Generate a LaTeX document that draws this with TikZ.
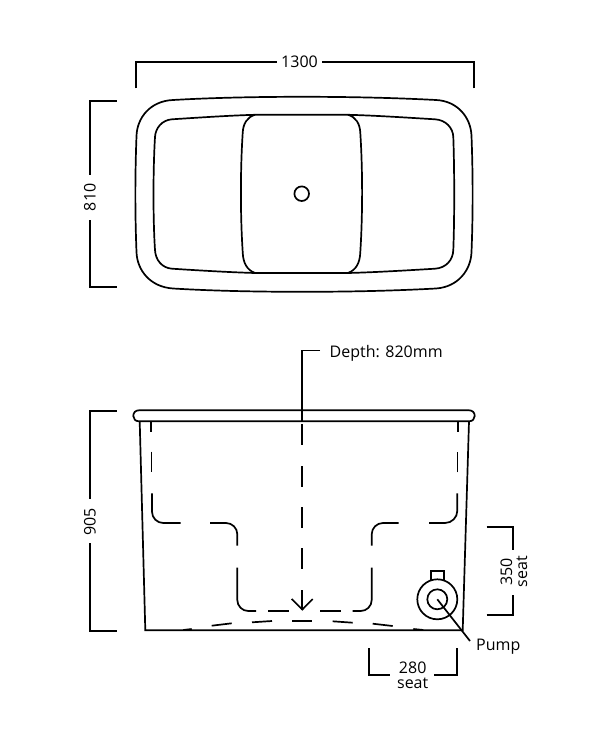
\documentclass[tikz,border=0pt]{standalone}
\usepackage{fontspec}
\setmainfont{Open Sans}
\begin{document}
\begin{tikzpicture}[x=1pt,y=-1pt,
  ln/.style={line width=1.7pt,black},
  dim/.style={line width=1.7pt,black,line cap=butt},
  lab/.style={inner sep=0pt,font=\fontsize{16}{16}\selectfont},
  lab2/.style={inner sep=0pt,font=\fontsize{16}{15}\selectfont,align=center}]
\useasboundingbox (0,0) rectangle (600,730);
% plan view
\draw[ln] (173,100) .. controls (215,97.6) and (260,96.8) .. (301.7,96.8)
  .. controls (345,96.8) and (390,97.6) .. (436,100)
  .. controls (458,101) and (471,118) .. (471.5,136)
  .. controls (473,175) and (473,215) .. (471.5,252)
  .. controls (471,270) and (458,287) .. (436,288.5)
  .. controls (390,291) and (345,291.8) .. (301.7,291.8)
  .. controls (260,291.8) and (215,291) .. (173,288.5)
  .. controls (150,287) and (137,270) .. (136.5,252)
  .. controls (135,215) and (135,175) .. (136.5,136)
  .. controls (137,118) and (150,101) .. (173,100) -- cycle;
\draw[ln] (172,119.3) .. controls (200,117.5) and (230,115.5) .. (255,114.8)
  -- (348,114.8)
  .. controls (375,115.5) and (405,117.5) .. (435,119.3)
  .. controls (446,120) and (453,128) .. (453.3,137)
  .. controls (454.5,170) and (454.5,220) .. (453.3,250)
  .. controls (453,260) and (446,268) .. (435,268.7)
  .. controls (405,270.5) and (375,272.3) .. (348,273)
  -- (255,273)
  .. controls (230,272.3) and (200,270.5) .. (172,268.7)
  .. controls (162,268) and (155.5,260) .. (155,250)
  .. controls (153,220) and (153,170) .. (155,137)
  .. controls (155.5,128) and (162,120) .. (172,119.3) -- cycle;
\draw[ln] (255,114.8) .. controls (247,117) and (243,124) .. (242.7,133)
  .. controls (240.3,170) and (240.3,215) .. (242.7,252)
  .. controls (243,263) and (247,270) .. (255,273);
\draw[ln] (348,114.8) .. controls (356,117) and (360,124) .. (360.3,133)
  .. controls (362.7,170) and (362.7,215) .. (360.3,252)
  .. controls (360,263) and (356,270) .. (348,273);
\node[draw,circle,ln,minimum size=14.6pt,inner sep=0pt] (drain) at (301.7,193.7) {};
% 1300
\node[lab,anchor=base] (w) at (299.5,68) {1300};
\draw[dim] (135.7,88.3) |- (277,62);
\draw[dim] (474.3,88.3) |- (322,62);
% 810
\node[lab,rotate=90] (h) at (90,197.3) {810};
\draw[dim] (116.7,100.7) -| (90.3,175);
\draw[dim] (116.7,286.7) -| (90.3,220);
% side view
\draw[ln] (139,421.3) .. controls (135.5,421.3) and (133.3,419) .. (133.3,416)
  .. controls (133.3,412.5) and (135.5,410.3) .. (139,410.3) -- (469,410.3)
  .. controls (472.5,410.3) and (474.7,412.5) .. (474.7,416)
  .. controls (474.7,419) and (472.5,421.3) .. (469,421.3) -- cycle;
\draw[ln] (139.7,421.3) -- (145.3,630.3) -- (462.7,630.3) -- (469,421.3);
% hidden seat
\begin{scope}[ln]
\draw (151,421) -- (151,431.7);
\draw (151.5,451.7) -- (151.5,472.3);
\draw (152,493.3) -- (152,511.7) arc[start angle=180,end angle=90,radius=11.3] -- (180.7,523);
\draw (210,523) -- (226,523) arc[start angle=-90,end angle=0,radius=11.3] -- (237.3,545.7);
\draw (237.3,567.7) -- (237.3,600) arc[start angle=180,end angle=90,radius=11] -- (256,611);
\draw (268.3,611) -- (289.3,611);
\draw (320,611) -- (340.7,611);
\draw (352.7,611) -- (360.7,611) arc[start angle=90,end angle=0,radius=11] -- (371.7,567.7);
\draw (371.7,545.7) -- (371.7,534.3) arc[start angle=180,end angle=270,radius=11.3] -- (398.7,523);
\draw (429,523) -- (445,523) arc[start angle=90,end angle=0,radius=12.3] -- (457.3,493.3);
\draw (457.5,472.3) -- (457.5,451.7);
\draw (458,431.7) -- (458,421);
% floor
\draw (183.3,630) -- (191.7,629);
\draw (211.7,625.7) -- (231.7,623.3);
\draw (252,622.3) -- (272,621);
\draw (292.3,620.7) -- (312.3,620.7);
\draw (332.7,621.3) -- (352.7,622.7);
\draw (372.7,623.7) -- (392.7,626);
\draw (413.3,629) -- (423.3,630);
% depth
\draw (320,350.5) -- (302.3,350.5) -- (302.3,421);
\draw (302.3,424) -- (302.3,445);
\draw (302.3,466) -- (302.3,487);
\draw (302.3,507) -- (302.3,528);
\draw (302.3,548) -- (302.3,569);
\draw (302.3,590) -- (302.3,609.5);
\draw (291.7,599) -- (302.3,609.5) -- (312.7,599);
\end{scope}
\node[lab,anchor=base west] (depth) at (329.5,357) {Depth: 820mm};
% pump
\draw[ln] (430.7,581) -- (430.7,571) -- (444.3,571) -- (444.3,581);
\node[draw,circle,ln,minimum size=40pt,inner sep=0pt] (po) at (437.3,599.3) {};
\node[draw,circle,ln,minimum size=20pt,inner sep=0pt] (pi) at (437.3,599.3) {};
\node[lab,anchor=base west] (pump) at (476,650.5) {Pump};
\coordinate (pe) at (470,641);
\draw[ln] (pi.center) -- (pe);
% 350
\node[lab2,rotate=90] (s350) at (514,571.7) {350\\seat};
\draw[dim] (486.7,527.3) -| (513,550);
\draw[dim] (486.7,615.3) -| (513,595);
% 280
\node[lab2] (s280) at (412.7,675.5) {280\\seat};
\draw[dim] (369,648.3) |- (390,675.3);
\draw[dim] (456.7,648.3) |- (434,675.3);
% 905
\node[lab,rotate=90] (hh) at (90,521.7) {905};
\draw[dim] (116.7,410.7) -| (90.3,499);
\draw[dim] (116.7,630.7) -| (90.3,543.3);
\end{tikzpicture}
\end{document}
